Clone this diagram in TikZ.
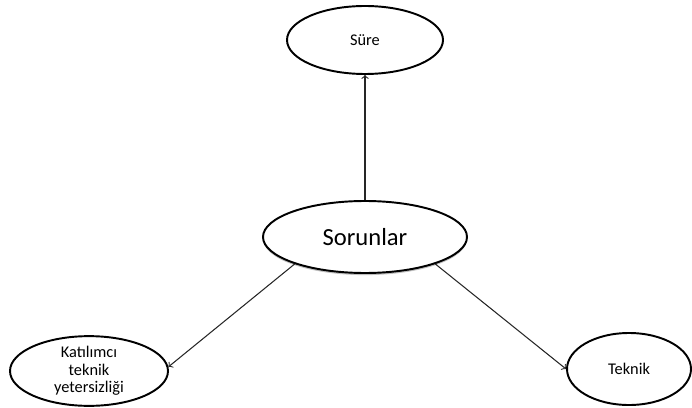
\documentclass[tikz,border=0pt]{standalone}
\usepackage{fontspec}
\setmainfont{Carlito}
\usetikzlibrary{shapes.geometric,shadows}

\tikzset{
  oval/.style={ellipse, draw, line width=1.1pt, inner sep=0pt, fill=white,
    font=\fontsize{9.3}{10}\selectfont, align=center},
  link/.style={->, line width=0.6pt, draw=black!85}
}

\begin{document}
\begin{tikzpicture}
        \useasboundingbox (0,0) rectangle (13.84,8.14);
        % centre node
        \node[oval, minimum width=4.08cm, minimum height=1.44cm,
              font=\fontsize{14}{17}\selectfont,
              drop shadow={shadow xshift=0pt, shadow yshift=-1.2pt, opacity=0.5}]
              (sorun) at (7.30,3.40) {Sorunlar};
        % outer nodes
        \node[oval, minimum width=3.12cm, minimum height=1.36cm] (sure) at (7.30,7.34) {Süre};
        \node[oval, minimum width=3.16cm, minimum height=1.24cm] (katilim) at (1.78,0.72)
              {Katılımcı\\teknik\\yetersizliği};
        \node[oval, minimum width=2.48cm, minimum height=1.44cm] (teknik) at (12.58,0.76) {Teknik};
        % arrows
        \draw[link] (sorun.north) -- (sure.south);
        \draw[link] (sorun.201) -- (katilim.3);
        \draw[link] (sorun.339) -- (teknik.west);
    \end{tikzpicture}
\end{document}
